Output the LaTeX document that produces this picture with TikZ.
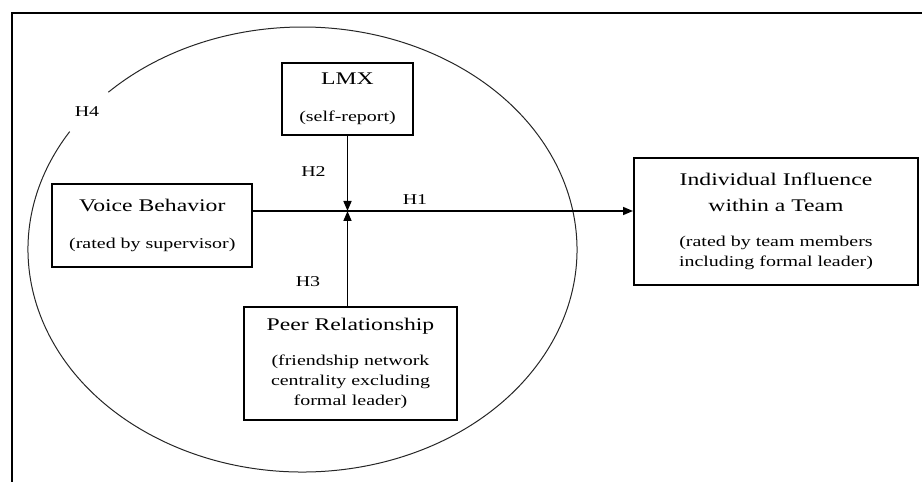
\documentclass[tikz,border=0pt]{standalone}
\usepackage{fontspec}
\setmainfont[FakeStretch=1.33]{Liberation Serif}
\usetikzlibrary{arrows.meta, positioning}
\newcommand\boxhead{\fontsize{17.8}{20}\selectfont}
\newcommand\boxnote{\fontsize{15}{20}\selectfont}
\tikzset{
  var/.style={draw, line width=2pt, align=center, inner sep=0pt, font=\boxnote},
  hyp/.style={font=\boxnote, inner sep=0pt},
  link/.style={line width=1.6pt, -{Triangle[length=10pt,width=8pt]}}
}

\begin{document}
\begin{tikzpicture}[x=1pt,y=1pt]
      \useasboundingbox (0,0) rectangle (922,482);
      \draw[line width=2pt] (12,-5) -- (12,469) -- (930,469);
      \coordinate (ctr) at (302.5,232.5);
      \draw[line width=1pt, black!85] (ctr) ++(148:274.5 and 222.5)
        arc[start angle=148, end angle=495, x radius=274.5, y radius=222.5];
      \node[hyp] (h4) at (87,370) {H4};
      \node[var, minimum width=131pt, minimum height=72pt] (lmx) at (347.5,383)
        {{\boxhead LMX}\\[17pt](self-report)};
      \node[var, minimum width=200pt, minimum height=83pt] (voice) at (152.3,256.5)
        {{\boxhead Voice Behavior}\\[17pt](rated by supervisor)};
      \node[var, minimum width=213pt, minimum height=113pt] (peer) at (350.5,118.5)
        {{\boxhead Peer Relationship}\\[15pt](friendship network\\centrality excluding\\formal leader)};
      \node[var, minimum width=284pt, minimum height=127pt] (infl) at (776,260.5)
        {{\boxhead Individual Influence}\\[6.7pt]{\boxhead within a Team}\\[15pt](rated by team members\\including formal leader)};
      \coordinate (mid) at (347.5,271);
      \draw[link] (voice.east |- mid) -- (infl.west |- mid);
      \draw[link] (lmx.south) -- (mid);
      \draw[link] (peer.north -| mid) -- (mid);
      \node[hyp] (h1) at (415,282) {H1};
      \node[hyp] (h2) at (313.5,310) {H2};
      \node[hyp] (h3) at (308,200) {H3};
    \end{tikzpicture}
\end{document}
